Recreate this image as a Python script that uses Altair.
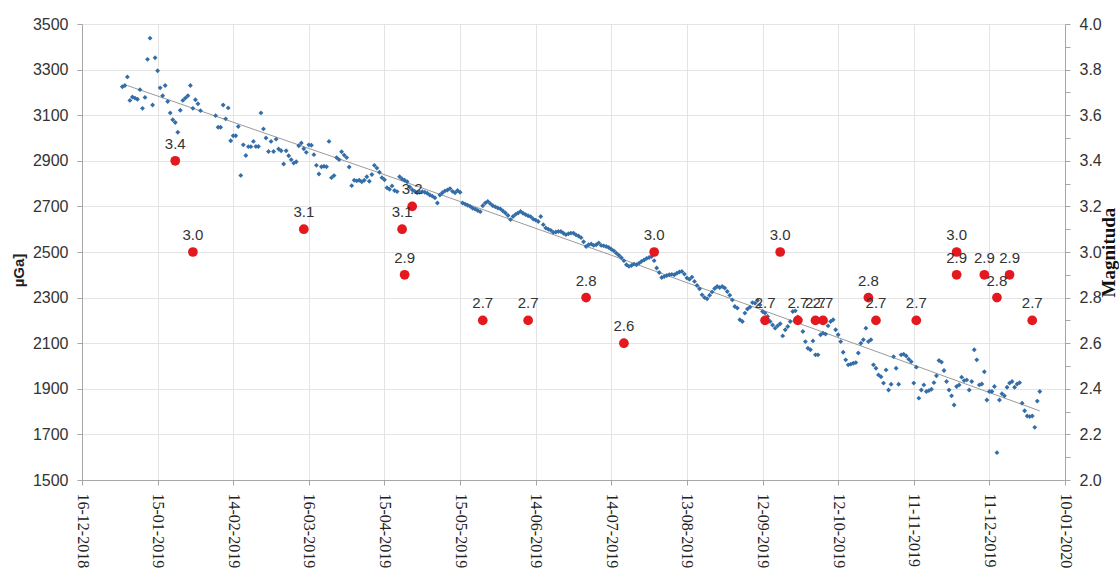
import altair as alt
import pandas as pd

# Daily gravity readings in 2019 (µGal), one list per month; None = no reading that day
jan = [3225, 3230, 3268, 3165, 3180, 3175, 3170, 3212, 3130, 3178, 3345, 3438, 3145, 3352, 3295, 3220,
       3185, 3230, 3160, 3110, 3080, 3068, 3025, 3122, 3165, 3175, 3185, 3230, 3130, 3168, 3150]
feb = [3120, None, None, None, None, None, 3098, 3047, 3047, 3145, 3084, 3132, 2988, 3010, 3010, 3050,
       2836, 2970, 2923, 2962, 2962, 2985, 2963, 2963, 3110, 3040, 3000, 2941]
mar = [2985, 2941, 2995, 2952, 2944, 2886, 2944, 2922, 2905, 2890, 2896, 2966, 2978, 2953, 2937, 2970,
       2968, 2927, 2880, 2842, 2874, 2876, 2874, 2985, 2826, 2835, 2914, 2905, 2940, 2925, 2914]
apr = [2873, 2791, 2815, 2812, 2815, 2808, 2815, 2830, 2810, 2840, 2880, 2868, 2850, 2826, 2817, 2782,
       2775, 2790, 2770, 2765, 2830, 2820, 2815, 2808, 2785, 2773, 2766, 2760, 2762, 2765]
may = [2762, 2758, 2750, 2745, 2738, 2715, 2750, 2760, 2768, 2772, 2778, 2766, 2760, 2770, 2762, 2715,
       2710, 2705, 2700, 2692, 2688, 2682, 2677, 2703, 2715, 2722, 2712, 2703, 2698, 2693, 2689]
jun = [2680, 2671, 2660, 2642, 2656, 2665, 2671, 2678, 2670, 2664, 2659, 2655, 2645, 2640, 2634, 2656,
       2620, 2605, 2600, 2595, 2586, 2588, 2590, 2590, 2582, 2576, 2580, 2583, 2583, 2575]
jul = [2570, 2563, 2545, 2524, 2532, 2535, 2529, 2532, 2540, 2529, 2527, 2524, 2520, 2512, 2505, 2495,
       2486, 2475, 2462, 2444, 2437, 2441, 2447, 2444, 2451, 2459, 2465, 2472, 2476, 2480, 2462]
aug = [2430, 2410, 2388, 2392, 2397, 2400, 2402, 2400, 2407, 2412, 2415, 2403, 2386, 2380, 2390, 2371,
       2353, 2339, 2312, 2300, 2295, 2310, 2325, 2340, 2349, 2344, 2349, 2342, 2327, 2310, 2290]
sep = [2261, 2254, 2203, 2195, 2232, 2250, 2258, 2278, 2275, 2287, 2268, 2239, 2232, 2217, 2195, 2180,
       2166, 2176, 2185, 2132, 2159, 2173, 2195, 2239, 2242, 2215, 2203, 2151, 2107, 2078]
octo = [2071, 2110, 2049, 2049, 2137, 2144, 2140, 2176, 2195, 2203, 2159, 2137, 2107, 2060, 2027, 2005,
        2008, 2012, 2015, 2057, 2100, 2115, 2166, 2107, 2115, 2005, 1990, 1961, 1953, 1925, 1983]
nov = [1895, 1920, 2041, 1990, 1920, 2049, 2052, 2044, 2030, 2019, 1925, 1995, 1859, 1895, 1917, 1888,
       1892, 1898, 1927, 1957, 2024, 2017, 1980, 1932, 1895, 1869, 1829, 1910, 1917, 1951]
dec = [1936, 1939, 1895, 1932, 2071, 2027, 1917, 1921, 1975, 1851, 1888, 1888, 1910, 1620, 1851, 1878,
       1869, 1907, 1925, 1932, 1907, 1921, 1927, 1837, 1804, 1781, 1778, 1781, 1731, 1846, 1888]
monthly = [jan, feb, mar, apr, may, jun, jul, aug, sep, octo, nov, dec]

# Linear trend of the gravity series
trend_dates = ["2019-01-03", "2019-04-13", "2019-07-14", "2019-12-31"]
trend_vals = [3230, 2847, 2486, 1803]

# Earthquakes: date and magnitude
eq_dates = ["2019-01-22", "2019-01-29", "2019-03-14", "2019-04-22", "2019-04-23", "2019-04-26",
            "2019-05-24", "2019-06-11", "2019-07-04", "2019-07-19", "2019-07-31", "2019-09-13",
            "2019-09-19", "2019-09-26", "2019-10-03", "2019-10-06", "2019-10-24", "2019-10-27",
            "2019-11-12", "2019-11-28", "2019-11-28", "2019-12-09", "2019-12-14", "2019-12-19",
            "2019-12-28"]
eq_mag = [3.4, 3.0, 3.1, 3.1, 2.9, 3.2, 2.7, 2.7, 2.8, 2.6, 3.0, 2.7, 3.0, 2.7, 2.7, 2.7, 2.8, 2.7,
          2.7, 3.0, 2.9, 2.9, 2.8, 2.9, 2.7]

# Axis ticks every 30 days
x_start = "2018-12-16"
x_end = "2020-01-10"
tick_dates = pd.date_range(x_start, x_end, freq="30D").strftime("%Y-%m-%d").tolist()
gravity_ticks = list(range(1500, 3501, 200))
mag_ticks = [round(2.0 + 0.1 * i, 1) for i in range(21)]


def ms(d):
    return int(pd.Timestamp(d).value // 10**6)


rows = []
for m, vals in enumerate(monthly, start=1):
    for d, v in enumerate(vals, start=1):
        if v is not None:
            rows.append({"t": ms(f"2019-{m:02d}-{d:02d}"), "g": v})
grav = pd.DataFrame(rows)
trend = pd.DataFrame({"t": [ms(d) for d in trend_dates], "g": trend_vals})
quakes = pd.DataFrame({"t": [ms(d) for d in eq_dates], "mag": eq_mag})

SANS = "Liberation Sans"
SERIF = "Liberation Serif, Times New Roman, serif"
GRID = "#e4e4e4"
DOMAIN = "#a6a6a6"

x_enc = alt.X(
    "t:T",
    scale=alt.Scale(type="utc", domain=[ms(x_start), ms(x_end)]),
    axis=alt.Axis(
        values=[ms(d) for d in tick_dates],
        labelExpr="utcFormat(datum.value, '%d-%m-%Y')",
        labelAngle=90,
        labelFont=SERIF,
        labelFontSize=16,
        labelColor="#222222",
        labelPadding=8,
        tickSize=5,
        tickColor=DOMAIN,
        domainColor=DOMAIN,
        grid=True,
        gridColor=GRID,
        title=None,
    ),
)

g_scale = alt.Scale(domain=[1500, 3500], nice=False, zero=False)
g_axis = alt.Axis(
    values=gravity_ticks,
    format="d",
    orient="left",
    labelFont=SANS,
    labelFontSize=16,
    labelColor="#333333",
    labelPadding=9,
    tickSize=5,
    tickColor=DOMAIN,
    domainColor=DOMAIN,
    grid=True,
    gridColor=GRID,
    title="µGa]",
    titleFont=SANS,
    titleFontSize=15,
    titleFontWeight="bold",
    titleColor="#222222",
    titleAngle=270,
    titleX=-64,
    titleY=246,
    titleAlign="center",
    titleBaseline="middle",
)

m_scale = alt.Scale(domain=[2.0, 4.0], nice=False, zero=False)
m_axis = alt.Axis(
    values=mag_ticks,
    orient="right",
    labelExpr="(round(datum.value * 10) % 2 == 0) ? format(datum.value, '.1f') : ''",
    labelFont=SANS,
    labelFontSize=16,
    labelColor="#333333",
    labelPadding=9,
    tickSize=5,
    tickColor=DOMAIN,
    domainColor=DOMAIN,
    grid=False,
    title="Magnituda",
    titleFont=SERIF,
    titleFontSize=19,
    titleFontWeight="bold",
    titleColor="#111111",
    titleAngle=270,
    titleX=43,
    titleY=228,
    titleAlign="center",
    titleBaseline="middle",
)

trend_line = alt.Chart(trend).mark_line(color="#9a9a9a", strokeWidth=1).encode(
    x=x_enc, y=alt.Y("g:Q", scale=g_scale, axis=g_axis)
)
grav_pts = alt.Chart(grav).mark_point(
    shape="diamond", filled=True, size=24, color="#336ea8", opacity=1
).encode(x=x_enc, y=alt.Y("g:Q", scale=g_scale, axis=g_axis))

quake_pts = alt.Chart(quakes).mark_circle(size=95, color="#e3191f", opacity=1).encode(
    x=x_enc, y=alt.Y("mag:Q", scale=m_scale, axis=m_axis)
)
quake_lbl = alt.Chart(quakes).mark_text(
    font=SANS, fontSize=15, color="#333333", baseline="alphabetic", dy=-12
).encode(
    x=x_enc,
    y=alt.Y("mag:Q", scale=m_scale, axis=m_axis),
    text=alt.Text("mag:Q", format=".1f"),
)

chart = (
    alt.layer(
        alt.layer(trend_line, grav_pts),
        alt.layer(quake_pts, quake_lbl),
    )
    .resolve_scale(y="independent")
    .properties(
        width=983,
        height=456,
        autosize=alt.AutoSizeParams(type="none"),
        padding={"left": 82, "top": 24, "right": 54, "bottom": 92},
        background="white",
    )
    .configure_view(strokeWidth=0)
)

chart.save("out.html", embed_options={"renderer": "svg", "actions": False})
